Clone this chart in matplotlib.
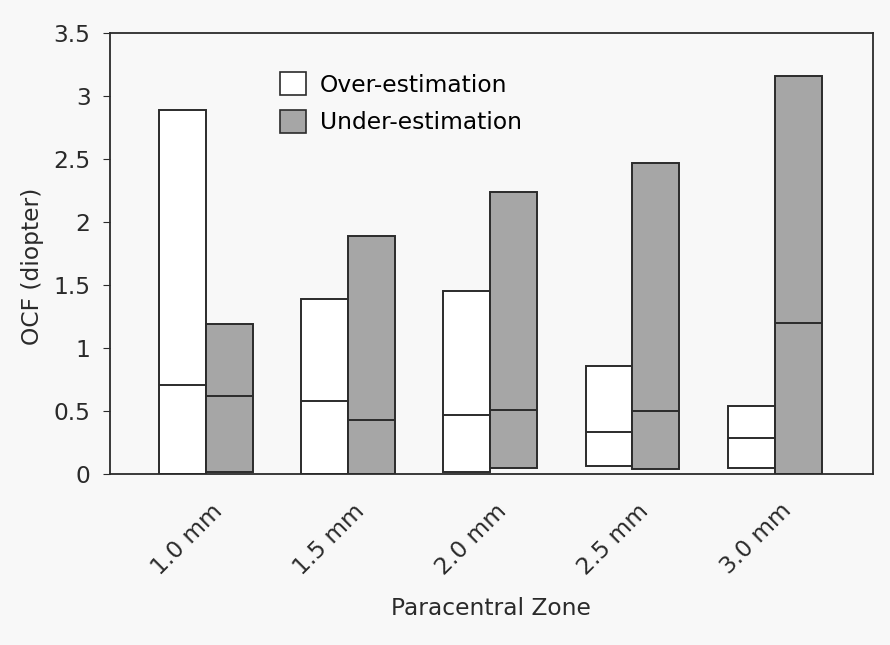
import numpy as np
import matplotlib.pyplot as plt
import matplotlib.transforms as mtransforms
from matplotlib.patches import Patch

# datos: minimo, mediana y maximo de cada zona
zones = ["1.0 mm", "1.5 mm", "2.0 mm", "2.5 mm", "3.0 mm"]

over_min = [0.00, 0.00, 0.02, 0.065, 0.05]
over_med = [0.71, 0.58, 0.47, 0.33, 0.29]
over_max = [2.89, 1.39, 1.45, 0.86, 0.54]

under_min = [0.02, 0.00, 0.05, 0.04, 0.00]
under_med = [0.62, 0.43, 0.51, 0.50, 1.20]
under_max = [1.19, 1.89, 2.235, 2.47, 3.16]

bg = "#f8f8f8"
edge = "#2b2b2b"
gray = "#a6a6a6"
txt = "#2a2a2a"
fs = 16.8

fig = plt.figure(figsize=(8.9, 6.45), dpi=100, facecolor=bg)
ax = fig.add_axes([0.1236, 0.265, 0.857, 0.684], facecolor=bg)

x = np.arange(len(zones))
w = 0.33

over_h = np.array(over_max) - np.array(over_min)
under_h = np.array(under_max) - np.array(under_min)

ax.bar(x - w/2, over_h, w, bottom=over_min, color="white", edgecolor=edge, linewidth=1.4)
ax.bar(x + w/2, under_h, w, bottom=under_min, color=gray, edgecolor=edge, linewidth=1.4)

# linea de la mediana
ax.hlines(over_med, x - w, x, colors=edge, linewidth=1.4)
ax.hlines(under_med, x, x + w, colors=edge, linewidth=1.4)

ax.set_xlim(-0.675, 4.69)
ax.set_ylim(0, 3.5)
ax.set_yticks([0, 0.5, 1, 1.5, 2, 2.5, 3, 3.5])
ax.set_yticklabels(["0", "0.5", "1", "1.5", "2", "2.5", "3", "3.5"], fontsize=fs, color=txt)
ax.tick_params(axis="y", direction="out", length=5, color=edge, pad=9)

ax.set_xticks(x)
ax.set_xticklabels(zones, fontsize=fs, rotation=45, ha="right", va="center",
                   rotation_mode="anchor", color=txt)
ax.tick_params(axis="x", length=0, pad=24)
offset = mtransforms.ScaledTranslation(0.13, 0, fig.dpi_scale_trans)
for lbl in ax.get_xticklabels():
    lbl.set_transform(lbl.get_transform() + offset)

for s in ax.spines.values():
    s.set_color(edge)
    s.set_linewidth(1.3)

ax.set_xlabel("Paracentral Zone", fontsize=fs, color=txt, labelpad=13)
ax.set_ylabel("OCF (diopter)", fontsize=fs, color=txt)
ax.yaxis.set_label_coords(-0.087, 0.47)

handles = [Patch(facecolor="white", edgecolor=edge, linewidth=1.2, label="Over-estimation"),
           Patch(facecolor=gray, edgecolor=edge, linewidth=1.2, label="Under-estimation")]
ax.legend(handles=handles, loc="upper left", bbox_to_anchor=(0.211, 0.932), frameon=False,
          fontsize=fs, handlelength=1.1, handleheight=1.15, handletextpad=0.6,
          labelspacing=0.55, borderaxespad=0)

fig.savefig("out.png", dpi=100, facecolor=bg)
